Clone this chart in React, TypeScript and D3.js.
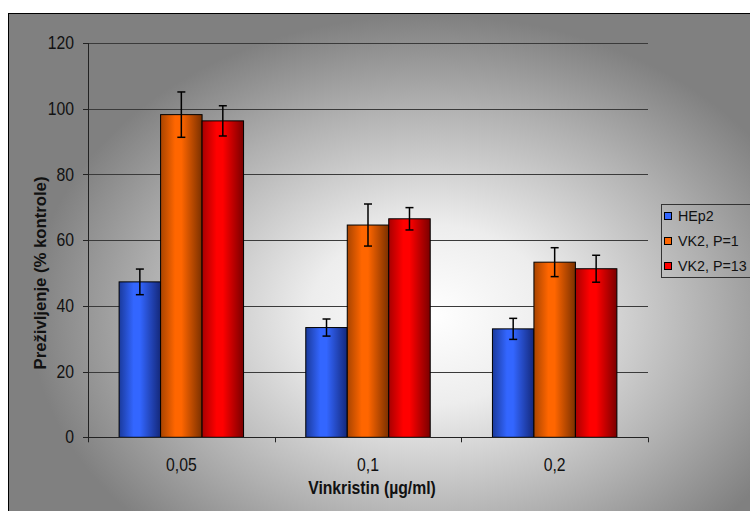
import React from "react";
import * as d3 from "d3";

const categories = ["0,05", "0,1", "0,2"];
const series = ["HEp2", "VK2, P=1", "VK2, P=13"];
const values = [
  [47.3, 98.2, 96.3],
  [33.4, 64.6, 66.5],
  [33.0, 53.3, 51.3],
];
const errors = [
  [3.9, 6.9, 4.6],
  [2.6, 6.4, 3.4],
  [3.2, 4.4, 4.1],
];
const yTicks = [0, 20, 40, 60, 80, 100, 120];
const seriesColors = [
  { dark: "#14287a", mid: "#3366ff", edge: "#1a3a9c", legend: "#3366ff" },
  { dark: "#7a3000", mid: "#ff6600", edge: "#a84400", legend: "#ff6600" },
  { dark: "#7a0000", mid: "#ff0000", edge: "#a80000", legend: "#ff0000" },
];

export default function App() {
  const left = 88, right = 648, top = 43, bottom = 437.3;
  const x0 = d3.scaleBand<string>().domain(categories).range([left, right]).padding(0);
  const x1 = d3
    .scaleBand<string>()
    .domain(series)
    .range([0, x0.bandwidth()])
    .paddingInner(0)
    .paddingOuter(0.75);
  const y = d3.scaleLinear().domain([0, 120]).range([bottom, top]);
  const font = "'Liberation Sans', Arial, sans-serif";
  const sx = 0.9;

  return (
    <div style={{ position: "fixed", left: 0, top: 0, width: 750, height: 511 }}>
      <svg width={750} height={511} style={{ display: "block" }}>
        <defs>
          <radialGradient
            id="bg"
            gradientUnits="userSpaceOnUse"
            cx={0}
            cy={0}
            r={1}
            gradientTransform="translate(430,315) scale(400,300)"
          >
            <stop offset="0" stopColor="#ffffff" />
            <stop offset="0.3" stopColor="#ededed" />
            <stop offset="0.7" stopColor="#b0b0b0" />
            <stop offset="1" stopColor="#808080" />
          </radialGradient>
          {seriesColors.map((c, i) => (
            <linearGradient key={i} id={`bar${i}`} x1="0" y1="0" x2="1" y2="0">
              <stop offset="0" stopColor={c.edge} />
              <stop offset="0.35" stopColor={c.mid} />
              <stop offset="0.5" stopColor={c.mid} />
              <stop offset="1" stopColor={c.dark} />
            </linearGradient>
          ))}
        </defs>
        <rect x={0} y={0} width={750} height={511} fill="#ffffff" />
        <rect x={8.5} y={13.5} width={760} height={520} fill="url(#bg)" stroke="#000" strokeWidth={1} />

        {/* gridlines */}
        {yTicks.map((t) => (
          <g key={t}>
            {t > 0 && (
              <line x1={left} x2={right} y1={Math.round(y(t)) + 0.5} y2={Math.round(y(t)) + 0.5} stroke="#3a3a3a" strokeWidth={1} />
            )}
            <line x1={left - 5} x2={left} y1={Math.round(y(t)) + 0.5} y2={Math.round(y(t)) + 0.5} stroke="#222" strokeWidth={1} />
            <text
              transform={`translate(${left - 14},${y(t)}) scale(${sx},1)`}
              dy="0.35em"
              textAnchor="end"
              fontFamily={font}
              fontSize={17.5}
              fill="#111"
            >
              {t}
            </text>
          </g>
        ))}

        {/* bars */}
        {categories.map((cat, ci) => (
          <g key={cat} transform={`translate(${x0(cat)},0)`}>
            {series.map((s, si) => {
              const v = values[ci][si];
              const e = errors[ci][si];
              const bx = x1(s)!;
              const bw = x1.bandwidth();
              const cx = bx + bw / 2;
              return (
                <g key={s}>
                  <rect
                    x={bx}
                    y={y(v)}
                    width={bw}
                    height={bottom - y(v)}
                    fill={`url(#bar${si})`}
                    stroke="#000"
                    strokeWidth={1}
                  />
                  <line x1={cx} x2={cx} y1={y(v + e)} y2={y(v - e)} stroke="#000" strokeWidth={1.5} />
                  <line x1={cx - 4} x2={cx + 4} y1={y(v + e)} y2={y(v + e)} stroke="#000" strokeWidth={1.5} />
                  <line x1={cx - 4} x2={cx + 4} y1={y(v - e)} y2={y(v - e)} stroke="#000" strokeWidth={1.5} />
                </g>
              );
            })}
          </g>
        ))}

        {/* axes */}
        <line x1={left + 0.5} x2={left + 0.5} y1={top} y2={bottom} stroke="#222" strokeWidth={1} />
        <line x1={left} x2={right} y1={Math.round(bottom) + 0.5} y2={Math.round(bottom) + 0.5} stroke="#222" strokeWidth={1} />
        {[...categories.map((c) => x0(c)!), right].map((xv, i) => (
          <line key={i} x1={Math.round(xv) + 0.5} x2={Math.round(xv) + 0.5} y1={bottom} y2={bottom + 5} stroke="#222" strokeWidth={1} />
        ))}
        {categories.map((cat) => (
          <text
            key={cat}
            transform={`translate(${x0(cat)! + x0.bandwidth() / 2},465) scale(${sx},1)`}
            dy="0.35em"
            textAnchor="middle"
            fontFamily={font}
            fontSize={17.5}
            fill="#111"
          >
            {cat}
          </text>
        ))}

        {/* axis titles */}
        <text
          transform={`translate(372,488) scale(${sx},1)`}
          dy="0.35em"
          textAnchor="middle"
          fontFamily={font}
          fontSize={17.5}
          fontWeight="bold"
          fill="#111"
        >
          Vinkristin (µg/ml)
        </text>
        <text
          transform="translate(40,273) rotate(-90)"
          dy="0.35em"
          textAnchor="middle"
          fontFamily={font}
          fontSize={16.7}
          fontWeight="bold"
          fill="#111"
        >
          Preživljenje (% kontrole)
        </text>

        {/* legend */}
        <rect x={661.5} y={204.5} width={100} height={73} fill="none" stroke="#333" strokeWidth={1} />
        {series.map((s, i) => {
          const ly = 216 + i * 25;
          return (
            <g key={s}>
              <rect x={664.5} y={ly - 3.5} width={7} height={7} fill={seriesColors[i].legend} stroke="#000" strokeWidth={1} />
              <text x={678} y={ly} dy="0.35em" fontFamily={font} fontSize={14.3} fill="#111">
                {s}
              </text>
            </g>
          );
        })}
      </svg>
    </div>
  );
}
